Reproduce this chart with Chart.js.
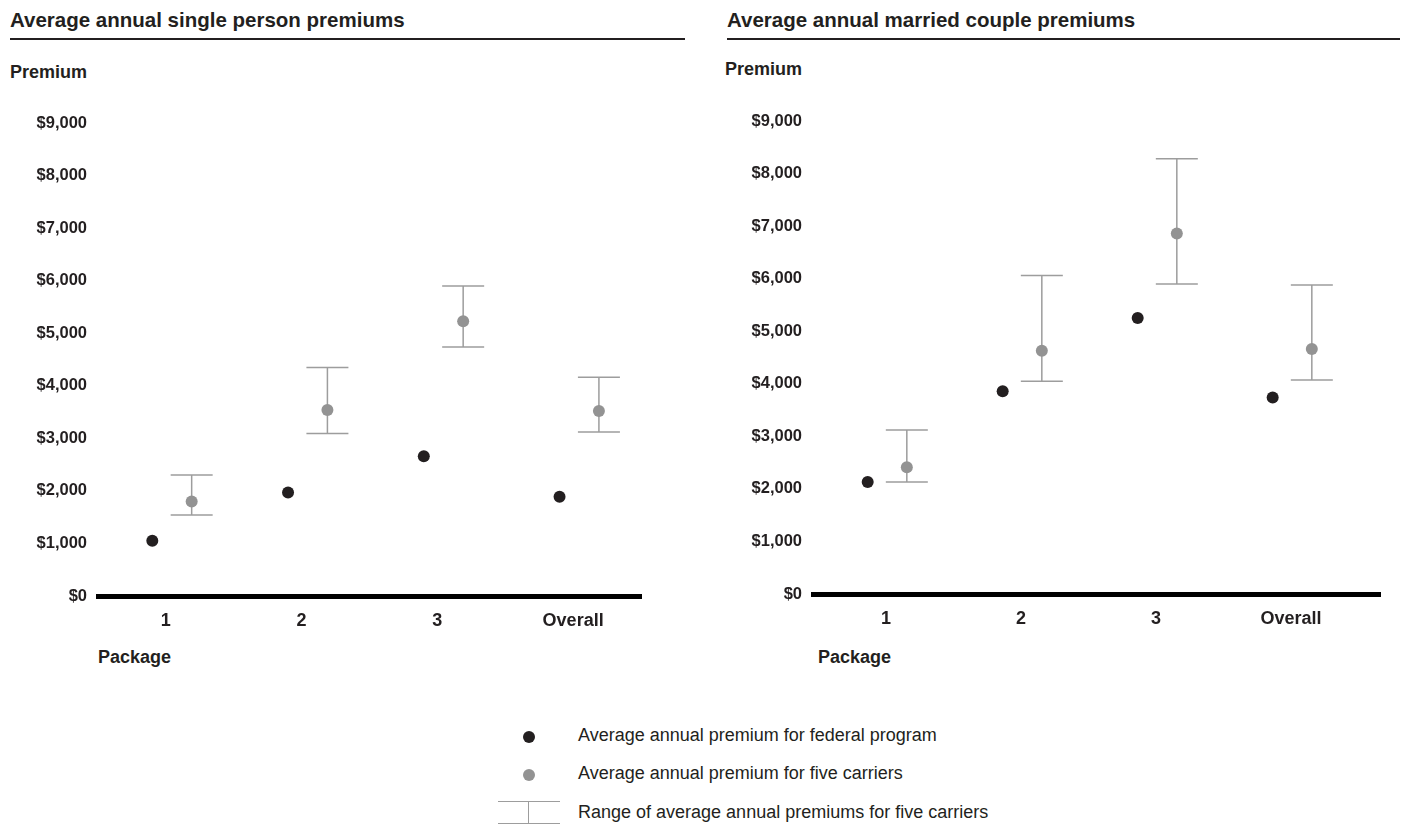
<!DOCTYPE html>
<html>
<head>
<meta charset="utf-8">
<script src="https://cdn.jsdelivr.net/npm/chart.js@4.4.1/dist/chart.umd.min.js"></script>
<style>
  body { margin: 0; width: 1403px; height: 827px; background: #fff; position: relative; overflow: hidden;
         font-family: "Liberation Sans", Arial, sans-serif; color: #231f20; }
  .title { position: absolute; top: 8px; font-size: 20.5px; font-weight: bold; line-height: 24px;
           padding-bottom: 6px; border-bottom: 2px solid #231f20; }
  .axis-label { position: absolute; font-size: 18px; font-weight: bold; line-height: 22px; }
  .chart { position: absolute; top: 100px; }
  .legend-row { position: absolute; left: 578px; font-size: 18px; line-height: 20px; }
  .dot { position: absolute; width: 12px; height: 12px; border-radius: 50%; left: 523px; }
</style>
</head>
<body>
<div class="title" style="left:10px;width:675px">Average annual single person premiums</div>
<div class="title" style="left:727px;width:673px">Average annual married couple premiums</div>

<div class="axis-label" style="left:10px;top:61px">Premium</div>
<div class="axis-label" style="left:725px;top:58px">Premium</div>
<div class="axis-label" style="left:98px;top:646px">Package</div>
<div class="axis-label" style="left:818px;top:646px">Package</div>

<canvas id="single" class="chart" style="left:0px" width="660" height="560"></canvas>
<canvas id="couple" class="chart" style="left:700px" width="700" height="560"></canvas>

<div class="dot" style="top:731px;background:#231f20"></div>
<div class="legend-row" style="top:725px">Average annual premium for federal program</div>
<div class="dot" style="top:769px;background:#939393"></div>
<div class="legend-row" style="top:763px">Average annual premium for five carriers</div>
<div style="position:absolute;left:498px;top:801px;width:62px;height:0;border-top:1.5px solid #9d9d9d"></div>
<div style="position:absolute;left:498px;top:823px;width:62px;height:0;border-top:1.5px solid #9d9d9d"></div>
<div style="position:absolute;left:528px;top:801px;width:0;height:23px;border-left:1.5px solid #9d9d9d"></div>
<div class="legend-row" style="top:802px">Range of average annual premiums for five carriers</div>

<script>
const packages = ['1', '2', '3', 'Overall'];
const yTicks = [0, 1000, 2000, 3000, 4000, 5000, 6000, 7000, 8000, 9000];

// single person
const singleFederal = [1050, 1970, 2660, 1890];
const singleCarriers = [1800, 3540, 5230, 3520];
const singleLow = [1540, 3090, 4740, 3120];
const singleHigh = [2300, 4350, 5900, 4160];

// married couple
const coupleFederal = [2130, 3860, 5250, 3740];
const coupleCarriers = [2410, 4630, 6860, 4660];
const coupleLow = [2130, 4050, 5900, 4070];
const coupleHigh = [3120, 6060, 8280, 5880];

const INK = '#231f20';
const GREY = '#939393';

// vertical range lines with caps, drawn under the dots
const rangeBars = {
  id: 'rangeBars',
  beforeDatasetsDraw(chart, args, opts) {
    const { ctx, scales: { x, y } } = chart;
    ctx.save();
    ctx.strokeStyle = '#9d9d9d';
    ctx.lineWidth = 1.5;
    opts.low.forEach((lo, i) => {
      const px = x.getPixelForValue(i + 1 + opts.offset);
      const yl = y.getPixelForValue(lo);
      const yh = y.getPixelForValue(opts.high[i]);
      ctx.beginPath();
      ctx.moveTo(px, yl); ctx.lineTo(px, yh);
      ctx.moveTo(px - 21, yl); ctx.lineTo(px + 21, yl);
      ctx.moveTo(px - 21, yh); ctx.lineTo(px + 21, yh);
      ctx.stroke();
    });
    ctx.restore();
  }
};

function makeChart(id, fed, carriers, low, high, cfg) {
  const toPoints = (vals, off) => vals.map((v, i) => ({ x: i + 1 + off, y: v }));
  new Chart(document.getElementById(id), {
    type: 'scatter',
    data: {
      datasets: [
        { data: toPoints(carriers, cfg.carrierOff), backgroundColor: GREY, pointRadius: 6, pointHoverRadius: 6, borderWidth: 0 },
        { data: toPoints(fed, cfg.fedOff), backgroundColor: INK, pointRadius: 6, pointHoverRadius: 6, borderWidth: 0 }
      ]
    },
    options: {
      responsive: false,
      animation: false,
      layout: { padding: cfg.padding },
      plugins: {
        legend: { display: false },
        tooltip: { enabled: false },
        rangeBars: { low: low, high: high, offset: cfg.carrierOff }
      },
      scales: {
        x: {
          type: 'linear',
          min: cfg.xMin,
          max: cfg.xMax,
          grid: { display: false, drawTicks: false },
          border: { display: true, color: '#000', width: 5 },
          afterBuildTicks: (scale) => { scale.ticks = packages.map((p, i) => ({ value: i + 1 })); },
          afterFit: (scale) => { scale.height = 40; },
          ticks: {
            padding: 14,
            color: INK,
            font: { family: 'Liberation Sans', size: 18, weight: 'bold' },
            callback: (v, i) => packages[i]
          }
        },
        y: {
          min: 0,
          max: 9000,
          grid: { display: false, drawTicks: false },
          border: { display: false },
          afterBuildTicks: (scale) => { scale.ticks = yTicks.map(v => ({ value: v })); },
          afterFit: (scale) => { scale.width = cfg.yWidth; },
          ticks: {
            padding: 11,
            color: INK,
            font: { family: 'Liberation Sans', size: 16.5, weight: 'bold' },
            callback: (v) => '$' + v.toLocaleString('en-US')
          }
        }
      }
    },
    plugins: [rangeBars]
  });
}

makeChart('single', singleFederal, singleCarriers, singleLow, singleHigh, {
  fedOff: -0.1, carrierOff: 0.19, xMin: 0.5, xMax: 4.5, yWidth: 98,
  padding: { top: 23, right: 19, bottom: 24, left: 0 }
});
makeChart('couple', coupleFederal, coupleCarriers, coupleLow, coupleHigh, {
  fedOff: -0.135, carrierOff: 0.155, xMin: 0.46, xMax: 4.66, yWidth: 113,
  padding: { top: 21, right: 20, bottom: 26, left: 0 }
});
</script>
</body>
</html>
